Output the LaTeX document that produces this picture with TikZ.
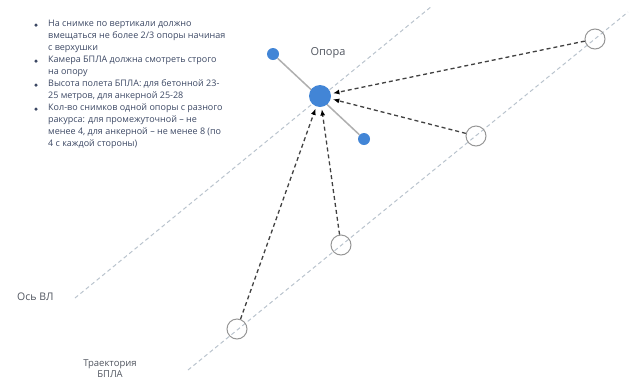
\documentclass[tikz,border=0pt]{standalone}
\usepackage{fontspec}
\setmainfont{Open Sans}
\usetikzlibrary{arrows.meta}
\definecolor{blueC}{RGB}{66,133,214}
\definecolor{txtC}{RGB}{60,72,100}
\definecolor{labC}{RGB}{80,85,95}
\definecolor{axC}{RGB}{185,195,205}
\definecolor{ringC}{RGB}{150,150,150}
\definecolor{arrC}{RGB}{65,65,65}
\definecolor{poleL}{RGB}{175,175,175}
\begin{document}
\begin{tikzpicture}[x=1pt,y=-1pt,
  axis/.style={draw=axC, line width=1pt, dash pattern=on 4pt off 3pt},
  ring/.style={circle, draw=ringC, line width=1pt, minimum size=20pt, inner sep=0pt},
  bigdot/.style={circle, fill=blueC, minimum size=22pt, inner sep=0pt},
  smalldot/.style={circle, fill=blueC, minimum size=12pt, inner sep=0pt},
  shot/.style={draw=arrC, line width=1.3pt, dash pattern=on 4pt off 3pt, shorten >=2pt,
    -{Latex[length=6.5pt,width=5pt,color=black]}},
  lab/.style={text=labC, inner sep=0pt},
  listtxt/.style={text=txtC, font=\fontsize{9}{12}\selectfont, inner sep=0pt, align=left},
  bul/.style={circle, fill=txtC, minimum size=3.5pt, inner sep=0pt}]
\useasboundingbox (0,0) rectangle (634,389);
% axis lines
\coordinate (axA) at (75,298);
\coordinate (axB) at (432,6);
\coordinate (trA) at (188,370);
\coordinate (trB) at (628,12);
\draw[axis] (axA) -- (axB);
\draw[axis] (trA) -- (trB);
% pole
\node[smalldot] (ins1) at (273,54) {};
\node[smalldot] (ins2) at (364,139) {};
\draw[draw=poleL, line width=1.5pt] (ins1) -- (ins2);
\node[bigdot] (p) at (320,96) {};
\node[lab, font=\fontsize{11}{13}\selectfont, anchor=base] (opora) at (328,55) {Опора};
% drone positions
\node[ring] (c1) at (595,39) {};
\node[ring] (c2) at (476,136) {};
\node[ring] (c3) at (341,245) {};
\node[ring] (c4) at (237,329) {};
\draw[shot] (c1) -- (p);
\draw[shot] (c2) -- (p);
\draw[shot] (c3) -- (p);
\draw[shot] (c4) -- (p);
% labels
\node[lab, font=\fontsize{10.5}{13}\selectfont, anchor=base west] (osvl) at (17,300) {Ось ВЛ};
\node[lab, font=\fontsize{9.5}{11}\selectfont, anchor=north, align=center] (traj) at (110,360) {Траектория\\БПЛА};
% bullet list
\node[listtxt, anchor=north west] (list) at (48,20) {На снимке по вертикали должно\\вмещаться не более 2/3 опоры начиная\\с верхушки\\Камера БПЛА должна смотреть строго\\на опору\\Высота полета БПЛА: для бетонной 23-\\25 метров, для анкерной 25-28\\Кол-во снимков одной опоры с разного\\ракурса: для промежуточной – не\\менее 4, для анкерной – не менее 8 (по\\4 с каждой стороны)};
\node[bul] (b1) at (36,25) {};
\node[bul] (b2) at (36,61) {};
\node[bul] (b3) at (36,85) {};
\node[bul] (b4) at (36,109) {};
\end{tikzpicture}
\end{document}
